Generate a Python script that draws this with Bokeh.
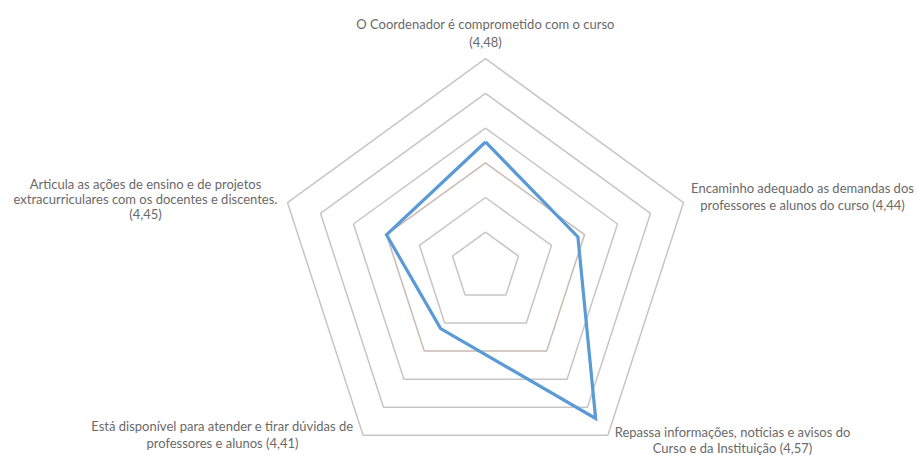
import math
from bokeh.plotting import figure
from bokeh.models import Range1d, ColumnDataSource
from bokeh.core.properties import value
from bokeh.embed import file_html
from bokeh.resources import INLINE

# ---- data ----
categories = [
    "O Coordenador é comprometido com o curso",
    "Encaminho adequado as demandas dos professores e alunos do curso",
    "Repassa informações, notícias e avisos do Curso e da Instituição",
    "Está disponível para atender e tirar dúvidas de professores e alunos",
    "Articula as ações de ensino e de projetos extracurriculares com os docentes e discentes.",
]
scores = [4.48, 4.44, 4.57, 4.41, 4.45]
reference_series = [4.45, 4.45, 4.45, 4.45, 4.45]
axis_min = 4.30
axis_max = 4.60
axis_step = 0.05
label_lines = [
    ["O Coordenador é comprometido com o curso", "(4,48)"],
    ["Encaminho adequado as demandas dos", "professores e alunos do curso (4,44)"],
    ["Repassa informações, notícias e avisos do", "Curso e da Instituição (4,57)"],
    ["Está disponível para atender e tirar dúvidas de", "professores e alunos (4,41)"],
    ["Articula as ações de ensino e de projetos",
     "extracurriculares com os docentes e discentes.", "(4,45)"],
]

# ---- layout ----
W, H = 918, 455
CX, CY = 485.0, H - 266.4       # centre in plot pixels (y from bottom)
RADIUS = 208.2                   # outer ring radius in px
n = len(categories)
angles = [math.pi / 2 - 2 * math.pi * i / n for i in range(n)]


def radius(v):
    return (v - axis_min) / (axis_max - axis_min) * RADIUS


def ring(vals):
    xs = [CX + radius(v) * math.cos(a) for v, a in zip(vals, angles)]
    ys = [CY + radius(v) * math.sin(a) for v, a in zip(vals, angles)]
    return xs + xs[:1], ys + ys[:1]


p = figure(width=W, height=H, output_backend="svg", toolbar_location=None,
           x_range=Range1d(0, W), y_range=Range1d(0, H), min_border=0)
p.axis.visible = False
p.grid.visible = False
p.outline_line_color = None
p.background_fill_color = "white"

# grid rings
nrings = int(round((axis_max - axis_min) / axis_step))
gx, gy = [], []
for k in range(1, nrings + 1):
    lvl = axis_min + k * axis_step
    xs, ys = ring([lvl] * n)
    gx.append(xs)
    gy.append(ys)
p.multi_line(gx, gy, line_color="#c6c6c6", line_width=1.5)

# faint second series
ox, oy = ring(reference_series)
p.line(ox, oy, line_color="#ed7d31", line_alpha=0.12, line_width=1.5)

# main series
bx, by = ring(scores)
p.line(bx, by, line_color="#5b9bd5", line_width=3.2, line_join="miter")

# labels (centre x, first line centre y, line gap) in page px
label_pos = [(485, 23, 18), (802, 187, 17), (732, 431, 16), (222, 425, 17), (145, 183, 15)]
tx, ty, tt = [], [], []
for (px, py, gap), lines in zip(label_pos, label_lines):
    for j, s in enumerate(lines):
        tx.append(px)
        ty.append(H - (py + j * gap))
        tt.append(s)
src = ColumnDataSource(dict(x=tx, y=ty, text=tt))
p.text(x="x", y="y", text="text", source=src, text_font=value("Lato"),
       text_font_size="13px", text_color="#6a6a6a", text_align="center",
       text_baseline="middle")

open("out.html", "w").write(file_html(p, INLINE))
